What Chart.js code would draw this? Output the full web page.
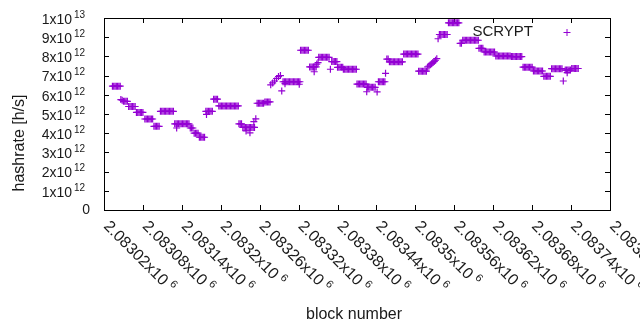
<!DOCTYPE html>
<html>
<head>
<meta charset="utf-8">
<script src="https://cdn.jsdelivr.net/npm/chart.js@4.4.0/dist/chart.umd.min.js"></script>
<style>
  html, body { margin: 0; padding: 0; background: #fff; }
  #wrap { width: 640px; height: 330px; }
</style>
</head>
<body>
<div id="wrap"><canvas id="chart" width="640" height="330"></canvas></div>
<script>
// SCRYPT blocks: block height and network hashrate estimate (units of 10^12 h/s)
const blocks = [
  2083033, 2083035, 2083037, 2083039, 2083041, 2083043, 2083045,
  2083046, 2083048, 2083050, 2083052, 2083054, 2083056,
  2083058, 2083060, 2083062, 2083064, 2083066, 2083068, 2083070, 2083072, 2083074, 2083076, 2083078, 2083080,
  2083083, 2083085, 2083087, 2083089, 2083091, 2083093, 2083095, 2083097, 2083099, 2083101, 2083103, 2083105,
  2083107, 2083109, 2083111, 2083113, 2083115, 2083117, 2083119, 2083121, 2083123, 2083125, 2083127,
  2083129, 2083131, 2083132, 2083133, 2083135, 2083137, 2083139, 2083141, 2083143, 2083145, 2083147, 2083149, 2083151,
  2083153, 2083155, 2083157, 2083159, 2083161, 2083163, 2083165, 2083167, 2083169, 2083171, 2083173, 2083175,
  2083177, 2083178, 2083179, 2083181, 2083183, 2083185, 2083187, 2083189, 2083191, 2083193, 2083195,
  2083197, 2083199, 2083201, 2083203, 2083205, 2083207, 2083209, 2083211, 2083213, 2083215, 2083217, 2083219, 2083221, 2083223, 2083225, 2083227,
  2083228, 2083230, 2083232, 2083234, 2083236, 2083238, 2083239, 2083240, 2083242, 2083244, 2083245, 2083246, 2083248, 2083250, 2083251, 2083252, 2083254,
  2083256, 2083258, 2083260, 2083262, 2083264, 2083266, 2083268, 2083270, 2083272, 2083274, 2083276,
  2083277, 2083280, 2083283, 2083286, 2083289, 2083292, 2083294,
  2083296, 2083298, 2083299, 2083300, 2083302, 2083304, 2083306, 2083308, 2083310, 2083312, 2083314, 2083316, 2083318, 2083320, 2083321, 2083322,
  2083323, 2083325, 2083327, 2083329, 2083331, 2083333, 2083335,
  2083337, 2083339, 2083341, 2083343, 2083344, 2083345, 2083347, 2083348, 2083350,
  2083351, 2083353, 2083355, 2083357, 2083359, 2083361, 2083363, 2083365, 2083367, 2083369,
  2083371, 2083373, 2083375, 2083377, 2083379, 2083380, 2083382, 2083384, 2083386, 2083388,
  2083389, 2083391, 2083393, 2083395, 2083397, 2083399, 2083401, 2083403, 2083405, 2083407, 2083409,
  2083410, 2083412, 2083414, 2083416, 2083418, 2083420, 2083422, 2083424,
  2083425, 2083426, 2083428, 2083430, 2083432, 2083434, 2083436, 2083438, 2083441,
  2083443, 2083445, 2083447, 2083449, 2083451, 2083453, 2083454, 2083456, 2083458,
  2083460, 2083462, 2083464, 2083466, 2083468, 2083470, 2083472, 2083474, 2083476, 2083478, 2083480,
  2083482, 2083484, 2083486, 2083488, 2083490, 2083492, 2083494, 2083496, 2083498, 2083500, 2083502, 2083504,
  2083505, 2083507, 2083509, 2083511, 2083513, 2083515, 2083517,
  2083519, 2083521, 2083523, 2083525, 2083527, 2083529, 2083531, 2083533, 2083535,
  2083537, 2083539, 2083541, 2083543, 2083545, 2083547, 2083549,
  2083551, 2083553, 2083555, 2083557, 2083559, 2083561, 2083563, 2083565, 2083567,
  2083569, 2083571,
  2083573, 2083575, 2083577, 2083579, 2083581, 2083583, 2083585, 2083587, 2083589, 2083591, 2083593, 2083595, 2083597,
  2083598, 2083600, 2083602, 2083604,
  2083606, 2083608, 2083610, 2083612, 2083614, 2083616, 2083618, 2083620, 2083622,
  2083624, 2083626, 2083628, 2083630, 2083632, 2083634, 2083636, 2083638, 2083640, 2083642, 2083644, 2083646,
  2083648, 2083650, 2083652, 2083654, 2083656, 2083658, 2083660, 2083662, 2083664,
  2083666, 2083668, 2083670, 2083672, 2083674, 2083676, 2083678, 2083680,
  2083682, 2083684, 2083686, 2083688, 2083690, 2083692, 2083694, 2083696,
  2083698, 2083700, 2083702, 2083704, 2083706, 2083708,
  2083710, 2083712, 2083714, 2083716, 2083718, 2083720, 2083722, 2083724, 2083726, 2083728,
  2083731, 2083733, 2083734, 2083735, 2083737, 2083739, 2083741, 2083743, 2083745, 2083747, 2083749, 2083751
];
const hashrate = [
  6.45, 6.45, 6.45, 6.45, 6.45, 6.45, 6.45,
  5.75, 5.72, 5.66, 5.66, 5.66, 5.66,
  5.39, 5.39, 5.39, 5.39, 5.39, 5.39, 5.08, 5.08, 5.08, 5.08, 5.08, 5.08,
  4.74, 4.74, 4.74, 4.74, 4.74, 4.74, 4.74, 4.36, 4.36, 4.36, 4.36, 4.36,
  5.14, 5.14, 5.14, 5.14, 5.14, 5.14, 5.14, 5.14, 5.14, 5.14, 5.14,
  4.49, 4.49, 4.27, 4.49, 4.49, 4.49, 4.49, 4.49, 4.49, 4.49, 4.49, 4.49, 4.49,
  4.27, 4.27, 4.27, 4.00, 4.00, 4.00, 4.00, 3.79, 3.79, 3.79, 3.79, 3.79,
  5.14, 4.98, 5.14, 5.14, 5.14, 5.14, 5.14, 5.77, 5.77, 5.77, 5.77,
  5.42, 5.42, 5.42, 5.42, 5.42, 5.42, 5.42, 5.42, 5.42, 5.42, 5.42, 5.42, 5.42, 5.42, 5.42, 5.42,
  4.49, 4.49, 4.49, 4.30, 4.30, 4.30, 4.12, 4.30, 4.30, 4.30, 4.02, 4.30, 4.30, 4.30, 4.60, 4.30, 4.75,
  5.56, 5.56, 5.56, 5.56, 5.56, 5.56, 5.63, 5.63, 5.63, 5.63, 5.63,
  6.52, 6.62, 6.72, 6.85, 6.95, 7.00, 6.20,
  6.68, 6.68, 6.58, 6.68, 6.68, 6.68, 6.68, 6.68, 6.68, 6.68, 6.68, 6.68, 6.68, 6.68, 6.55, 6.68,
  8.32, 8.32, 8.32, 8.32, 8.32, 8.32, 8.32,
  7.45, 7.45, 7.45, 7.45, 7.20, 7.45, 7.45, 7.60, 7.68,
  7.95, 7.95, 7.95, 7.95, 7.95, 7.95, 7.95, 7.95, 7.95, 7.33,
  7.73, 7.73, 7.73, 7.73, 7.73, 7.43, 7.43, 7.43, 7.43, 7.43,
  7.33, 7.33, 7.33, 7.33, 7.33, 7.33, 7.33, 7.33, 7.33, 7.33, 7.33,
  6.56, 6.56, 6.56, 6.56, 6.56, 6.56, 6.56, 6.56,
  6.16, 6.39, 6.39, 6.39, 6.39, 6.39, 6.39, 6.39, 6.15,
  6.68, 6.68, 6.68, 6.68, 6.68, 6.68, 7.12, 7.86, 7.86,
  7.72, 7.72, 7.72, 7.72, 7.72, 7.72, 7.72, 7.72, 7.72, 7.72, 7.72,
  8.12, 8.12, 8.12, 8.12, 8.12, 8.12, 8.12, 8.12, 8.12, 8.12, 8.12, 8.12,
  7.23, 7.23, 7.23, 7.23, 7.23, 7.23, 7.23,
  7.45, 7.50, 7.56, 7.62, 7.68, 7.74, 7.80, 7.88, 8.92,
  9.14, 9.14, 9.14, 9.14, 9.14, 9.14, 9.14,
  9.75, 9.75, 9.75, 9.75, 9.75, 9.75, 9.75, 9.75, 9.75,
  8.68, 8.68,
  8.84, 8.84, 8.84, 8.84, 8.84, 8.84, 8.84, 8.84, 8.84, 8.84, 8.84, 8.84, 8.84,
  8.42, 8.42, 8.42, 8.42,
  8.23, 8.23, 8.23, 8.23, 8.23, 8.23, 8.23, 8.23, 8.23,
  8.02, 8.02, 8.02, 8.02, 8.02, 8.02, 8.02, 8.02, 8.02, 8.02, 8.02, 8.02,
  7.99, 7.99, 7.99, 7.99, 7.99, 7.99, 7.99, 7.99, 7.99,
  7.44, 7.44, 7.44, 7.44, 7.44, 7.44, 7.44, 7.44,
  7.24, 7.24, 7.24, 7.24, 7.24, 7.24, 7.24, 7.24,
  6.96, 6.96, 6.96, 6.96, 6.96, 6.96,
  7.36, 7.36, 7.36, 7.36, 7.36, 7.36, 7.36, 7.36, 7.36, 6.72,
  7.29, 7.29, 7.15, 7.29, 7.29, 7.29, 7.37, 7.37, 7.37, 7.37, 7.37, 7.37
];

// axis ticks, gnuplot style mantissa + exponent
const xTicks = [2083020, 2083080, 2083140, 2083200, 2083260, 2083320, 2083380,
                2083440, 2083500, 2083560, 2083620, 2083680, 2083740, 2083800];
const xTickLabels = ['2.08302', '2.08308', '2.08314', '2.0832', '2.08326', '2.08332', '2.08338',
                     '2.08344', '2.0835', '2.08356', '2.08362', '2.08368', '2.08374', '2.0838'];
const xTickExp = '6';
const yTicks = [0, 1e12, 2e12, 3e12, 4e12, 5e12, 6e12, 7e12, 8e12, 9e12, 1e13];
const yTickLabels = ['0', '1x10', '2x10', '3x10', '4x10', '5x10', '6x10', '7x10', '8x10', '9x10', '1x10'];
const yTickExps = ['', '12', '12', '12', '12', '12', '12', '12', '12', '12', '13'];

const seriesName = 'SCRYPT';
const purple = '#9400d3';
const FONT = '"Liberation Sans", Arial, sans-serif';
const TICK = 5;

const gnuplotFrame = {
  id: 'gnuplotFrame',
  beforeDatasetsDraw(chart) {
    const { ctx, chartArea: a, scales: { x, y } } = chart;
    ctx.save();
    ctx.strokeStyle = '#000';
    ctx.lineWidth = 1;
    ctx.beginPath();
    yTicks.forEach(v => {
      const py = Math.round(y.getPixelForValue(v)) + 0.5;
      ctx.moveTo(a.left, py); ctx.lineTo(a.left + TICK, py);
      ctx.moveTo(a.right, py); ctx.lineTo(a.right - TICK, py);
    });
    xTicks.forEach(v => {
      const px = Math.round(x.getPixelForValue(v)) + 0.5;
      ctx.moveTo(px, a.bottom); ctx.lineTo(px, a.bottom - TICK);
      ctx.moveTo(px, a.top); ctx.lineTo(px, a.top + TICK);
    });
    ctx.stroke();
    ctx.strokeRect(Math.round(a.left) + 0.5, Math.round(a.top) + 0.5,
                   Math.round(a.right - a.left), Math.round(a.bottom - a.top));
    ctx.restore();
  },
  afterDraw(chart) {
    const { ctx, chartArea: a, scales: { x, y } } = chart;
    ctx.save();
    ctx.fillStyle = '#1a1a1a';

    // y tick labels
    yTicks.forEach((v, i) => {
      const py = y.getPixelForValue(v);
      ctx.font = '14px ' + FONT;
      ctx.textAlign = 'right';
      ctx.textBaseline = 'middle';
      if (!yTickExps[i]) {
        ctx.fillText(yTickLabels[i], 90, py);
        return;
      }
      ctx.fillText(yTickLabels[i], 72, py + 2);
      ctx.font = '10px ' + FONT;
      ctx.textAlign = 'left';
      ctx.fillText(yTickExps[i], 74, py - 3);
    });

    // x tick labels, rotated down to the right
    xTicks.forEach((v, i) => {
      const px = x.getPixelForValue(v);
      const txt = xTickLabels[i] + 'x10';
      ctx.save();
      ctx.translate(px + 2, a.bottom + 14);
      ctx.rotate(Math.PI / 4);
      ctx.font = '16px ' + FONT;
      ctx.textAlign = 'left';
      ctx.textBaseline = 'middle';
      ctx.fillText(txt, 0, 0);
      const w = ctx.measureText(txt).width;
      ctx.font = '11px ' + FONT;
      ctx.fillText(xTickExp, w + 4, -5);
      ctx.restore();
    });

    // axis titles
    ctx.font = '16px ' + FONT;
    ctx.textAlign = 'center';
    ctx.textBaseline = 'middle';
    ctx.fillText('block number', 354, 315);
    ctx.save();
    ctx.translate(20, 143);
    ctx.rotate(-Math.PI / 2);
    ctx.fillText('hashrate [h/s]', 0, 0);
    ctx.restore();

    // key
    ctx.font = '15px ' + FONT;
    ctx.textAlign = 'right';
    ctx.fillText(seriesName, 533, 32);
    ctx.strokeStyle = purple;
    ctx.lineWidth = 1;
    ctx.beginPath();
    ctx.moveTo(563.5, 32.5); ctx.lineTo(570.5, 32.5);
    ctx.moveTo(567, 29); ctx.lineTo(567, 36);
    ctx.stroke();
    ctx.restore();
  }
};

new Chart(document.getElementById('chart'), {
  type: 'scatter',
  data: {
    datasets: [{
      label: seriesName,
      data: blocks.map((b, i) => ({ x: b, y: hashrate[i] * 1e12 })),
      pointStyle: 'cross',
      pointRadius: 3.5,
      pointBorderWidth: 1.2,
      borderColor: purple,
      backgroundColor: purple,
      showLine: false
    }]
  },
  options: {
    responsive: false,
    devicePixelRatio: 1,
    animation: false,
    layout: { padding: { left: 104, right: 30, top: 18, bottom: 120 } },
    plugins: { legend: { display: false }, tooltip: { enabled: false } },
    scales: {
      x: { type: 'linear', min: 2083020, max: 2083800, display: false },
      y: { type: 'linear', min: 0, max: 1e13, display: false }
    }
  },
  plugins: [gnuplotFrame]
});
</script>
</body>
</html>
